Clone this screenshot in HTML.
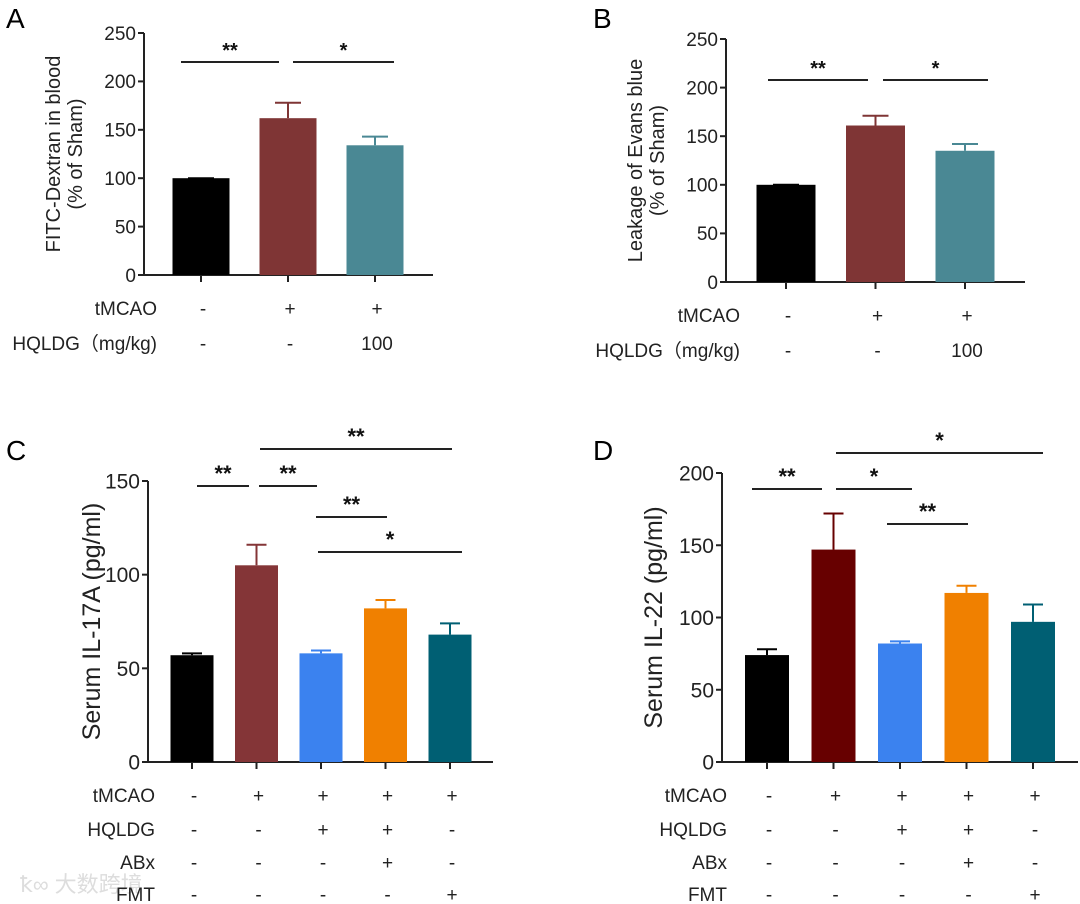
<!DOCTYPE html>
<html><head><meta charset="utf-8">
<style>
html,body{margin:0;padding:0;background:#fff;}
svg{display:block;font-family:"Liberation Sans",Arial,sans-serif;}
</style></head>
<body>
<svg id="fig" width="1080" height="904" viewBox="0 0 1080 904" xmlns="http://www.w3.org/2000/svg">
<text x="6" y="28" font-size="28">A</text>
<text x="593" y="28" font-size="28">B</text>
<text x="6" y="460" font-size="28">C</text>
<text x="593" y="460" font-size="28">D</text>
<text x="20" y="892" font-size="22" fill="#ddd" font-family="'Liberation Sans','Noto Sans CJK SC',sans-serif">ꝁ∞ 大数跨境</text>
</svg>
<script>
// Panel A data
const aCats = ["Sham","tMCAO","tMCAO+HQLDG"];
const aValues = [100, 162, 134];
const aErrors = [100, 178, 143];
const aTicks = [0,50,100,150,200,250];
// Panel B data
const bCats = ["Sham","tMCAO","tMCAO+HQLDG"];
const bValues = [100, 161, 135];
const bErrors = [100, 171, 142];
const bTicks = [0,50,100,150,200,250];
// Panel C data
const cCats = ["Sham","tMCAO","HQLDG","HQLDG+ABx","FMT"];
const cValues = [57, 105, 58, 82, 68];
const cErrors = [58, 116, 59.5, 86.5, 74];
const cTicks = [0,50,100,150];
// Panel D data
const dCats = ["Sham","tMCAO","HQLDG","HQLDG+ABx","FMT"];
const dValues = [74, 147, 82, 117, 97];
const dErrors = [78, 172, 83.5, 122, 109];
const dTicks = [0,50,100,150,200];

const NS="http://www.w3.org/2000/svg";
const svg=document.getElementById('fig');
function mk(tag,attrs,parent){const e=document.createElementNS(NS,tag);for(const k in attrs)e.setAttribute(k,attrs[k]);(parent||svg).appendChild(e);return e;}

function panel(p){
  const g=mk('g',{});
  
  
  const yMax=p.ticks[p.ticks.length-1];
  const y=v=>p.y0-(v/yMax)*(p.y0-p.yTop);
  const ya=mk('line',{x1:p.ax,x2:p.ax,y1:p.yTop,y2:p.y0,stroke:'#222','stroke-width':2},g);
  
  
  const xa=mk('line',{x1:p.ax,x2:p.axEnd,y1:p.y0,y2:p.y0,stroke:'#222','stroke-width':2},g);
  
  
  p.ticks.forEach(t=>{
    mk('line',{x1:p.ax-6,x2:p.ax,y1:y(t),y2:y(t),stroke:'#222','stroke-width':2},g);
    const tl=mk('text',{x:p.ax-8,y:y(t)+p.tfs*0.36,'font-size':p.tfs,'text-anchor':'end',fill:'#222'},g);
    tl.textContent=t;
    
    
  });
  const tt=mk('text',{transform:`translate(${p.titleX},${(p.yTop+p.y0)/2}) rotate(-90)`,'font-size':p.titleFs,'text-anchor':'middle',fill:'#222'},g);
  
  
  p.title.forEach((s,i)=>{const ts=mk('tspan',{x:0,dy:i===0?0:p.titleFs*1.1},tt);ts.textContent=s;});
  p.values.forEach((v,i)=>{
    const cx=p.cx0+i*p.step;
    const err=mk('path',{d:`M${cx},${y(v)} V${y(p.errs[i])} M${cx-p.cap},${y(p.errs[i])} H${cx+p.cap}`,stroke:p.colors[i],'stroke-width':2,fill:'none'},g);
    
    
    const r=mk('rect',{x:cx-p.bw/2,y:y(v),width:p.bw,height:p.y0-y(v),fill:p.colors[i]},g);
    
    
    mk('line',{x1:cx,x2:cx,y1:p.y0,y2:p.y0+7,stroke:'#222','stroke-width':2},g);
  });
  p.sig.forEach(s=>{
    const l=mk('line',{x1:s[0],x2:s[1],y1:s[2],y2:s[2],stroke:'#222','stroke-width':2},g);
    
    
    const st=mk('text',{x:(s[0]+s[1])/2,y:s[2]-5+p.starOff,'font-size':p.starFs,'font-weight':'bold','text-anchor':'middle',fill:'#111'},g);
    st.textContent=s[3];
    
    
  });
  p.rows.forEach(r=>{
    const lb=mk('text',{x:p.rowLabelX,y:r.y,'font-size':p.rowFs,'text-anchor':'end',fill:'#222'},g);
    lb.textContent=r.label;
    
    
    r.vals.forEach((s,i)=>{
      const t=mk('text',{x:p.cx0+i*p.step+2,y:r.y,'font-size':p.rowFs,'text-anchor':'middle',fill:'#222'},g);
      t.textContent=s;
      
      
    });
  });
}

panel({name:'panel-a-fitc',cats:aCats,values:aValues,errs:aErrors,ticks:aTicks,ax:144,axEnd:433,y0:275,yTop:33,tfs:19,
  title:['FITC-Dextran in blood','(% of Sham)'],titleX:60,titleFs:20,cx0:201,step:87,bw:57,cap:13,
  colors:['#000','#7f3535','#4a8894'],sig:[[181,279,62,'**'],[293,394,62,'*']],starOff:0,starFs:20,
  rowLabelX:157,rowFs:19,rows:[{label:'tMCAO',y:315,vals:['-','+','+']},{label:'HQLDG（mg/kg)',y:350,vals:['-','-','100']}]});
panel({name:'panel-b-evans-blue',cats:bCats,values:bValues,errs:bErrors,ticks:bTicks,ax:726,axEnd:1025,y0:282,yTop:39,tfs:19,
  title:['Leakage of Evans blue','(% of Sham)'],titleX:642,titleFs:20,cx0:786,step:89.5,bw:59,cap:13,
  colors:['#000','#7f3535','#4a8894'],sig:[[768,868,80,'**'],[883,988,80,'*']],starOff:0,starFs:20,
  rowLabelX:740,rowFs:19,rows:[{label:'tMCAO',y:322,vals:['-','+','+']},{label:'HQLDG（mg/kg)',y:357,vals:['-','-','100']}]});
panel({name:'panel-c-il17a',cats:cCats,values:cValues,errs:cErrors,ticks:cTicks,ax:148,axEnd:493,y0:762,yTop:481,tfs:21,
  title:['Serum IL-17A (pg/ml)'],titleX:100,titleFs:25,cx0:192,step:64.5,bw:43,cap:10,
  colors:['#000','#843537','#3b82ef','#f08000','#005f73'],
  sig:[[260,452,449,'**'],[197,249,486,'**'],[259,317,486,'**'],[316,387,517,'**'],[318,462,552,'*']],starOff:0,starFs:22,
  rowLabelX:155,rowFs:19,rows:[{label:'tMCAO',y:802,vals:['-','+','+','+','+']},{label:'HQLDG',y:836,vals:['-','-','+','+','-']},
  {label:'ABx',y:869,vals:['-','-','-','+','-']},{label:'FMT',y:901,vals:['-','-','-','-','+']}]});
panel({name:'panel-d-il22',cats:dCats,values:dValues,errs:dErrors,ticks:dTicks,ax:722,axEnd:1078,y0:762,yTop:473,tfs:21,
  title:['Serum IL-22 (pg/ml)'],titleX:662,titleFs:25,cx0:767,step:66.5,bw:44,cap:10,
  colors:['#000','#670000','#3b82ef','#f08000','#005f73'],
  sig:[[836,1043,453,'*'],[752,822,489,'**'],[836,912,489,'*'],[887,968,524,'**']],starOff:0,starFs:22,
  rowLabelX:727,rowFs:19,rows:[{label:'tMCAO',y:802,vals:['-','+','+','+','+']},{label:'HQLDG',y:836,vals:['-','-','+','+','-']},
  {label:'ABx',y:869,vals:['-','-','-','+','-']},{label:'FMT',y:901,vals:['-','-','-','-','+']}]});
</script>
</body></html>
